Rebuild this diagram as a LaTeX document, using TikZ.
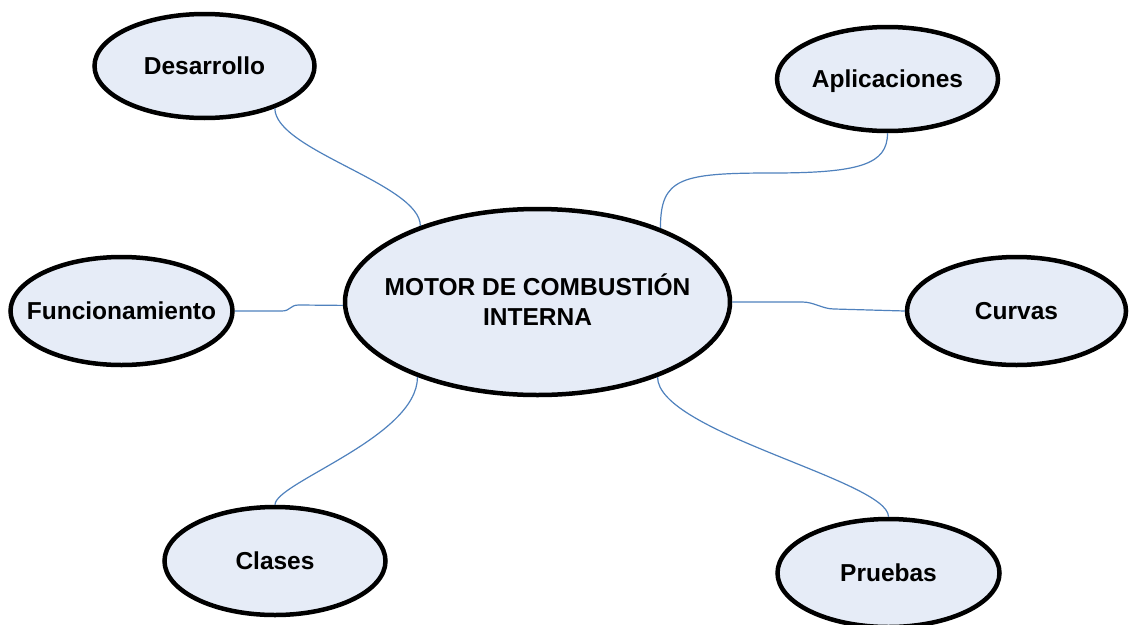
\documentclass[tikz,border=0pt]{standalone}
\usepackage{fontspec}
\setmainfont{Liberation Sans}
\usetikzlibrary{shapes.geometric}
\definecolor{bubblefill}{RGB}{230,236,247}
\definecolor{linkblue}{RGB}{79,129,189}
% keep the text from widening the ellipse
\newcommand\flatlabel[1]{\makebox[0pt][c]{#1}}
\begin{document}
\begin{tikzpicture}[x=1pt,y=-1pt,
  bubble/.style={ellipse, draw=black, line width=4.5pt, fill=bubblefill,
    inner sep=0pt, font=\bfseries\fontsize{24.5}{30}\selectfont},
  leaf/.style={bubble, text height=17.5pt, text depth=0pt},
  link/.style={draw=linkblue, line width=1.2pt}]
\clip (0,0) rectangle (1129,624);

% central topic
\node[bubble, minimum width=385pt, minimum height=186pt,
      text height=17.5pt, text depth=30pt] (c) at (537.5,302)
  {\flatlabel{\begin{tabular}[t]{@{}c@{}}MOTOR DE COMBUSTIÓN\\INTERNA\end{tabular}}};

% sub-topics
\node[leaf, minimum width=220pt, minimum height=104pt] (des) at (204.5,66) {\flatlabel{Desarrollo}};
\node[leaf, minimum width=221pt, minimum height=104pt] (apl) at (887.5,79) {\flatlabel{Aplicaciones}};
\node[leaf, minimum width=222pt, minimum height=108pt] (fun) at (121.5,311) {\flatlabel{Funcionamiento}};
\node[leaf, minimum width=219pt, minimum height=108pt] (cur) at (1016.5,311) {\flatlabel{Curvas}};
\node[leaf, minimum width=221pt, minimum height=108pt] (cla) at (275,561) {\flatlabel{Clases}};
\node[leaf, minimum width=222pt, minimum height=108pt] (pru) at (888.5,573) {\flatlabel{Pruebas}};

% connectors
\coordinate (amid) at (772,173);
\draw[link] (des.-31) .. controls +(0,42) and +(0,-42) .. (c.147.4);
\draw[link] (apl.south) .. controls +(0,31) and +(88,0) .. (amid)
            .. controls +(-92,0) and +(0,-50) .. (c.31.1);
\draw[link] (fun.east) -- ++(47,0) .. controls +(9,0) and +(-9,0) .. ++(17,-6) -- (c.181);
\draw[link] (c.-0.6) -- ++(70,0) .. controls +(12,0) and +(-12,0) .. ++(32,7) -- (cur.west);
\draw[link] (c.212.3) .. controls +(0,60) and +(0,-22) .. (cla.north);
\draw[link] (c.-32.1) .. controls +(0,55) and +(0,-36) .. (pru.north);
\end{tikzpicture}
\end{document}
